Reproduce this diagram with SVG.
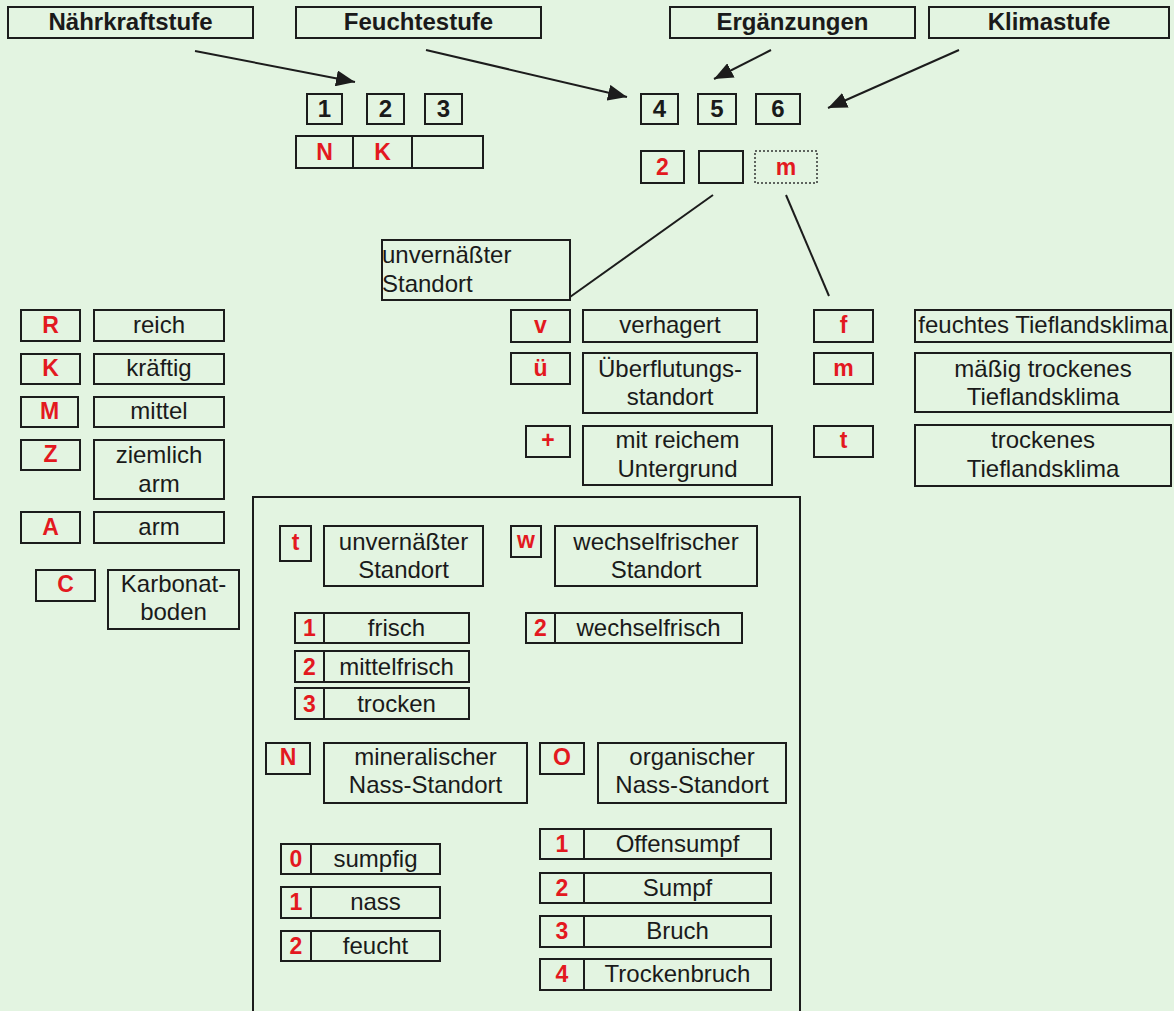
<svg xmlns="http://www.w3.org/2000/svg" width="1174" height="1011" viewBox="0 0 1174 1011">
<defs>
<style>
.bx{fill:none;stroke:#1c1c1c;stroke-width:2}
.dot{fill:none;stroke:#333;stroke-width:1.5;stroke-dasharray:2,2}
.ln{fill:none;stroke:#1c1c1c;stroke-width:2}
.h{font-family:"Liberation Sans",Arial,sans-serif;font-weight:bold;font-size:24px;fill:#1a1a1a;text-anchor:middle}
.c{font-family:"Liberation Sans",Arial,sans-serif;font-weight:bold;font-size:23px;fill:#e3191f;text-anchor:middle}
.l{font-family:"Liberation Sans",Arial,sans-serif;font-size:24px;fill:#1a1a1a;text-anchor:middle}
.ls{font-family:"Liberation Sans",Arial,sans-serif;font-size:24px;fill:#1a1a1a;text-anchor:start}
</style>
<marker id="ah" markerUnits="userSpaceOnUse" markerWidth="20" markerHeight="16" refX="19" refY="8" orient="auto">
<path d="M0,0 L19,8 L0,16 Z" fill="#1c1c1c"/>
</marker>
</defs>
<rect x="0" y="0" width="1174" height="1011" fill="#e3f4e1"/>

<g id="connectors">
<line class="ln" x1="195" y1="51" x2="355" y2="82" marker-end="url(#ah)"/>
<line class="ln" x1="426" y1="50" x2="627" y2="97" marker-end="url(#ah)"/>
<line class="ln" x1="771" y1="50" x2="714" y2="79" marker-end="url(#ah)"/>
<line class="ln" x1="959" y1="50" x2="828" y2="108" marker-end="url(#ah)"/>
<line class="ln" x1="713" y1="195" x2="570" y2="297"/>
<line class="ln" x1="786" y1="195" x2="829" y2="296"/>
</g>

<g id="hdr-naehrkraft"><rect class="bx" x="8" y="7" width="245" height="31"/><text class="h" x="130.5" y="30">Nährkraftstufe</text></g>
<g id="hdr-feuchte"><rect class="bx" x="296" y="7" width="245" height="31"/><text class="h" x="418.5" y="30">Feuchtestufe</text></g>
<g id="hdr-ergaenzungen"><rect class="bx" x="670" y="7" width="245" height="31"/><text class="h" x="792.5" y="30">Ergänzungen</text></g>
<g id="hdr-klima"><rect class="bx" x="929" y="7" width="240" height="31"/><text class="h" x="1049" y="30">Klimastufe</text></g>

<g id="pos1"><rect class="bx" x="307" y="94" width="35" height="30"/><text class="h" x="324.5" y="117">1</text></g>
<g id="pos2"><rect class="bx" x="367" y="94" width="37" height="30"/><text class="h" x="385.5" y="117">2</text></g>
<g id="pos3"><rect class="bx" x="425" y="94" width="37" height="30"/><text class="h" x="443.5" y="117">3</text></g>
<g id="pos4"><rect class="bx" x="641" y="94" width="37" height="30"/><text class="h" x="659.5" y="117">4</text></g>
<g id="pos5"><rect class="bx" x="698" y="94" width="38" height="30"/><text class="h" x="717" y="117">5</text></g>
<g id="pos6"><rect class="bx" x="756" y="94" width="44" height="30"/><text class="h" x="778" y="117">6</text></g>

<g id="code-nk"><rect class="bx" x="296" y="136" width="187" height="32"/><line class="ln" x1="353" y1="136" x2="353" y2="168"/><line class="ln" x1="412" y1="136" x2="412" y2="168"/><text class="c" x="324.5" y="160">N</text><text class="c" x="382.5" y="160">K</text></g>
<g id="code-2"><rect class="bx" x="641" y="151" width="43" height="32"/><text class="c" x="662.5" y="175">2</text></g>
<g id="code-empty"><rect class="bx" x="699" y="151" width="44" height="32"/></g>
<g id="code-m"><rect class="dot" x="755" y="151" width="62" height="32"/><text class="c" x="786" y="175">m</text></g>

<g id="top-unvernaesst"><rect class="bx" x="382" y="240" width="188" height="60"/><text class="ls" x="382" y="263">unvernäßter</text><text class="ls" x="382" y="292">Standort</text></g>

<g id="erg-v"><rect class="bx" x="511" y="310" width="59" height="32"/><text class="c" x="540.5" y="333">v</text><rect class="bx" x="583" y="310" width="174" height="32"/><text class="l" x="670" y="333">verhagert</text></g>
<g id="erg-ue"><rect class="bx" x="511" y="353" width="59" height="31"/><text class="c" x="540.5" y="376">ü</text><rect class="bx" x="583" y="353" width="174" height="60"/><text class="l" x="670" y="377">Überflutungs-</text><text class="l" x="670" y="405">standort</text></g>
<g id="erg-plus"><rect class="bx" x="526" y="426" width="44" height="31"/><text class="c" x="548" y="448">+</text><rect class="bx" x="583" y="426" width="189" height="59"/><text class="l" x="677.5" y="448">mit reichem</text><text class="l" x="677.5" y="477">Untergrund</text></g>

<g id="klima-f"><rect class="bx" x="814" y="310" width="59" height="32"/><text class="c" x="843.5" y="333">f</text><rect class="bx" x="915" y="310" width="256" height="32"/><text class="l" x="1043" y="333">feuchtes Tieflandsklima</text></g>
<g id="klima-m"><rect class="bx" x="814" y="353" width="59" height="31"/><text class="c" x="843.5" y="376">m</text><rect class="bx" x="915" y="353" width="256" height="59"/><text class="l" x="1043" y="377">mäßig trockenes</text><text class="l" x="1043" y="405">Tieflandsklima</text></g>
<g id="klima-t"><rect class="bx" x="814" y="426" width="59" height="31"/><text class="c" x="843.5" y="448">t</text><rect class="bx" x="915" y="425" width="256" height="61"/><text class="l" x="1043" y="448">trockenes</text><text class="l" x="1043" y="477">Tieflandsklima</text></g>

<g id="nk-r"><rect class="bx" x="21" y="310" width="59" height="31"/><text class="c" x="50.5" y="333">R</text><rect class="bx" x="94" y="310" width="130" height="31"/><text class="l" x="159" y="333">reich</text></g>
<g id="nk-k"><rect class="bx" x="21" y="354" width="59" height="30"/><text class="c" x="50.5" y="376">K</text><rect class="bx" x="94" y="354" width="130" height="30"/><text class="l" x="159" y="376">kräftig</text></g>
<g id="nk-m"><rect class="bx" x="21" y="397" width="57" height="30"/><text class="c" x="49.5" y="419">M</text><rect class="bx" x="94" y="397" width="130" height="30"/><text class="l" x="159" y="419">mittel</text></g>
<g id="nk-z"><rect class="bx" x="21" y="440" width="59" height="30"/><text class="c" x="50.5" y="462">Z</text><rect class="bx" x="94" y="440" width="130" height="59"/><text class="l" x="159" y="463">ziemlich</text><text class="l" x="159" y="492">arm</text></g>
<g id="nk-a"><rect class="bx" x="21" y="512" width="59" height="31"/><text class="c" x="50.5" y="535">A</text><rect class="bx" x="94" y="512" width="130" height="31"/><text class="l" x="159" y="535">arm</text></g>
<g id="nk-c"><rect class="bx" x="36" y="570" width="59" height="31"/><text class="c" x="65.5" y="592">C</text><rect class="bx" x="108" y="570" width="131" height="59"/><text class="l" x="173.5" y="592">Karbonat-</text><text class="l" x="173.5" y="620">boden</text></g>

<g id="feuchte-panel"><path class="bx" d="M253,1012 V497 H800 V1012"/></g>

<g id="f-t"><rect class="bx" x="280" y="526" width="31" height="35"/><text class="c" x="295.5" y="550">t</text><rect class="bx" x="324" y="526" width="159" height="60"/><text class="l" x="403.5" y="550">unvernäßter</text><text class="l" x="403.5" y="578">Standort</text></g>
<g id="f-w"><rect class="bx" x="511" y="526" width="30" height="31"/><text class="c" x="526" y="548">w</text><rect class="bx" x="555" y="526" width="202" height="60"/><text class="l" x="656" y="550">wechselfrischer</text><text class="l" x="656" y="578">Standort</text></g>

<g id="f-t1"><rect class="bx" x="295" y="613" width="29" height="30"/><rect class="bx" x="324" y="613" width="145" height="30"/><text class="c" x="309.5" y="636">1</text><text class="l" x="396.5" y="636">frisch</text></g>
<g id="f-t2"><rect class="bx" x="295" y="651" width="29" height="31"/><rect class="bx" x="324" y="651" width="145" height="31"/><text class="c" x="309.5" y="675">2</text><text class="l" x="396.5" y="675">mittelfrisch</text></g>
<g id="f-t3"><rect class="bx" x="295" y="688" width="29" height="31"/><rect class="bx" x="324" y="688" width="145" height="31"/><text class="c" x="309.5" y="712">3</text><text class="l" x="396.5" y="712">trocken</text></g>
<g id="f-w2"><rect class="bx" x="526" y="613" width="29" height="30"/><rect class="bx" x="555" y="613" width="187" height="30"/><text class="c" x="540.5" y="636">2</text><text class="l" x="648.5" y="636">wechselfrisch</text></g>

<g id="f-n"><rect class="bx" x="266" y="743" width="44" height="31"/><text class="c" x="288" y="765">N</text><rect class="bx" x="324" y="743" width="203" height="60"/><text class="l" x="425.5" y="765">mineralischer</text><text class="l" x="425.5" y="793">Nass-Standort</text></g>
<g id="f-o"><rect class="bx" x="540" y="743" width="44" height="31"/><text class="c" x="562" y="765">O</text><rect class="bx" x="598" y="743" width="188" height="60"/><text class="l" x="692" y="765">organischer</text><text class="l" x="692" y="793">Nass-Standort</text></g>

<g id="f-n0"><rect class="bx" x="281" y="844" width="30" height="30"/><rect class="bx" x="311" y="844" width="129" height="30"/><text class="c" x="296" y="867">0</text><text class="l" x="375.5" y="867">sumpfig</text></g>
<g id="f-n1"><rect class="bx" x="281" y="887" width="30" height="31"/><rect class="bx" x="311" y="887" width="129" height="31"/><text class="c" x="296" y="910">1</text><text class="l" x="375.5" y="910">nass</text></g>
<g id="f-n2"><rect class="bx" x="281" y="931" width="30" height="30"/><rect class="bx" x="311" y="931" width="129" height="30"/><text class="c" x="296" y="954">2</text><text class="l" x="375.5" y="954">feucht</text></g>

<g id="f-o1"><rect class="bx" x="540" y="829" width="44" height="30"/><rect class="bx" x="584" y="829" width="187" height="30"/><text class="c" x="562" y="852">1</text><text class="l" x="677.5" y="852">Offensumpf</text></g>
<g id="f-o2"><rect class="bx" x="540" y="873" width="44" height="30"/><rect class="bx" x="584" y="873" width="187" height="30"/><text class="c" x="562" y="896">2</text><text class="l" x="677.5" y="896">Sumpf</text></g>
<g id="f-o3"><rect class="bx" x="540" y="916" width="44" height="31"/><rect class="bx" x="584" y="916" width="187" height="31"/><text class="c" x="562" y="939">3</text><text class="l" x="677.5" y="939">Bruch</text></g>
<g id="f-o4"><rect class="bx" x="540" y="959" width="44" height="31"/><rect class="bx" x="584" y="959" width="187" height="31"/><text class="c" x="562" y="982">4</text><text class="l" x="677.5" y="982">Trockenbruch</text></g>
</svg>
